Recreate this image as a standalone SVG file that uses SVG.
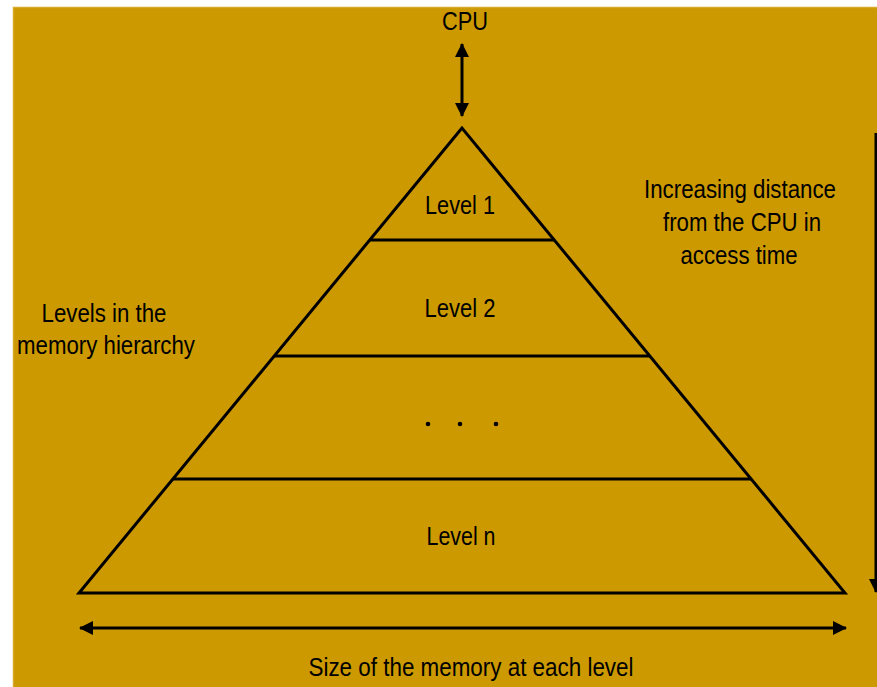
<svg xmlns="http://www.w3.org/2000/svg" width="877" height="687" viewBox="0 0 877 687">
  <style>
    .lbl { font-family: "Liberation Sans", Arial, sans-serif; font-size: 25px; fill: #000; }
    .mid { text-anchor: middle; }
    .edge { stroke: #000; stroke-width: 3; fill: none; stroke-linejoin: miter; }
    .conn { stroke: #000; stroke-width: 3; fill: none; }
  </style>
  <defs>
    <marker id="head" viewBox="0 0 14 14" refX="13" refY="7" markerWidth="14" markerHeight="14" markerUnits="userSpaceOnUse" orient="auto-start-reverse">
      <path d="M0,0 L14,7 L0,14 Z" fill="#000"/>
    </marker>
  </defs>

  <!-- page background -->
  <rect x="0" y="0" width="877" height="687" fill="#ffffff"/>
  <rect x="13.5" y="7.5" width="870" height="690" fill="#cc9900" stroke="#d9ab2a" stroke-width="1.5"/>

  <!-- pyramid of memory levels -->
  <g id="pyramid">
    <path class="edge" d="M462,128 L79,593 L845,593 Z"/>
    <line class="edge" x1="370" y1="240" x2="554" y2="240"/>
    <line class="edge" x1="274" y1="356" x2="650" y2="356"/>
    <line class="edge" x1="173" y1="479" x2="751" y2="479"/>
  </g>

  <g id="level1"><text class="lbl mid" x="460" y="214" textLength="70" lengthAdjust="spacingAndGlyphs">Level 1</text></g>
  <g id="level2"><text class="lbl mid" x="460" y="317" textLength="71" lengthAdjust="spacingAndGlyphs">Level 2</text></g>
  <g id="levelDots">
    <circle cx="428" cy="424" r="2.3" fill="#000"/>
    <circle cx="460" cy="424" r="2.3" fill="#000"/>
    <circle cx="496" cy="424" r="2.3" fill="#000"/>
  </g>
  <g id="levelN"><text class="lbl mid" x="461" y="545" textLength="69" lengthAdjust="spacingAndGlyphs">Level n</text></g>

  <g id="cpu"><text class="lbl mid" x="465" y="30" textLength="46" lengthAdjust="spacingAndGlyphs">CPU</text></g>

  <g id="hierarchyLabel">
    <text class="lbl mid" x="104" y="322" textLength="125" lengthAdjust="spacingAndGlyphs">Levels in the</text>
    <text class="lbl mid" x="106" y="354" textLength="178" lengthAdjust="spacingAndGlyphs">memory hierarchy</text>
  </g>

  <g id="distanceLabel">
    <text class="lbl mid" x="740" y="198" textLength="192" lengthAdjust="spacingAndGlyphs">Increasing distance</text>
    <text class="lbl mid" x="742" y="231" textLength="158" lengthAdjust="spacingAndGlyphs">from the CPU in</text>
    <text class="lbl mid" x="739" y="264" textLength="117" lengthAdjust="spacingAndGlyphs">access time</text>
  </g>

  <g id="sizeLabel">
    <text class="lbl mid" x="471" y="676" textLength="325" lengthAdjust="spacingAndGlyphs">Size of the memory at each level</text>
  </g>

  <!-- connectors -->
  <g id="connectors">
    <line class="conn" x1="462" y1="44" x2="462" y2="116" marker-start="url(#head)" marker-end="url(#head)"/>
    <line class="conn" x1="80" y1="628" x2="846" y2="628" marker-start="url(#head)" marker-end="url(#head)"/>
    <line class="conn" x1="876" y1="133" x2="876" y2="592" marker-end="url(#head)"/>
  </g>
</svg>
